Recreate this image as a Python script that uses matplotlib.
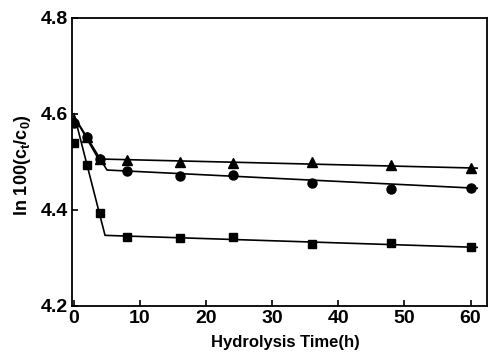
import matplotlib
matplotlib.use("Agg")
import matplotlib.pyplot as plt
from matplotlib import font_manager

# Measured data (hydrolysis time in h, ln 100(ct/c0))
t_tri = [0, 2, 4, 8, 16, 24, 36, 48, 60]
y_tri = [4.584, 4.552, 4.506, 4.504, 4.500, 4.498, 4.500, 4.494, 4.487]

t_cir = [0, 2, 4, 8, 16, 24, 36, 48, 60]
y_cir = [4.580, 4.552, 4.506, 4.481, 4.471, 4.473, 4.456, 4.443, 4.445]

t_sq = [0, 2, 4, 8, 16, 24, 36, 48, 60]
y_sq = [4.540, 4.494, 4.393, 4.343, 4.341, 4.343, 4.330, 4.332, 4.322]

# Fitted (two-stage) lines
fit_tri_t = [0, 3.7, 61]
fit_tri_y = [4.595, 4.506, 4.487]
fit_cir_t = [0, 5.0, 61]
fit_cir_y = [4.595, 4.483, 4.445]
fit_sq_t = [0, 4.7, 61]
fit_sq_y = [4.600, 4.347, 4.322]

xticks = [0, 10, 20, 30, 40, 50, 60]
yticks = [4.2, 4.4, 4.6, 4.8]

names = {f.name for f in font_manager.fontManager.ttflist}
fam = ['Liberation Sans Narrow', 'DejaVu Sans'] if 'Liberation Sans Narrow' in names else ['Liberation Sans', 'DejaVu Sans']
plt.rcParams['font.family'] = fam
plt.rcParams['mathtext.fontset'] = 'custom'
plt.rcParams['mathtext.rm'] = fam[0] + ':bold'
plt.rcParams['mathtext.it'] = fam[0] + ':bold'

fig = plt.figure(figsize=(4.91, 3.61), dpi=100)
ax = fig.add_axes([0.1466, 0.1524, 0.8454, 0.7985])

lw = 1.2
ax.plot(fit_tri_t, fit_tri_y, color='black', lw=lw)
ax.plot(fit_cir_t, fit_cir_y, color='black', lw=lw)
ax.plot(fit_sq_t, fit_sq_y, color='black', lw=lw)
ax.plot(t_tri, y_tri, linestyle='none', marker='^', ms=6.5, color='black')
ax.plot(t_cir, y_cir, linestyle='none', marker='o', ms=6.5, color='black')
ax.plot(t_sq, y_sq, linestyle='none', marker='s', ms=6, color='black')

ax.set_xlim(-0.3, 62.5)
ax.set_ylim(4.2, 4.8)
ax.set_xticks(xticks)
ax.set_yticks(yticks)
ax.set_xticklabels([str(v) for v in xticks], fontsize=14, fontweight='bold')
ax.set_yticklabels([f"{v:.1f}" for v in yticks], fontsize=14, fontweight='bold')
ax.tick_params(direction='in', length=4, width=1.2, pad=3)
for s in ax.spines.values():
    s.set_linewidth(1.3)

ax.set_xlabel('Hydrolysis Time(h)', fontsize=12, fontweight='bold')
ax.xaxis.set_label_coords(0.515, -0.10)
ax.set_ylabel(r'ln 100(c$_t$/c$_0$)', fontsize=13, fontweight='bold')
ax.yaxis.set_label_coords(-0.095, 0.49)

fig.savefig('out.png', dpi=100)
